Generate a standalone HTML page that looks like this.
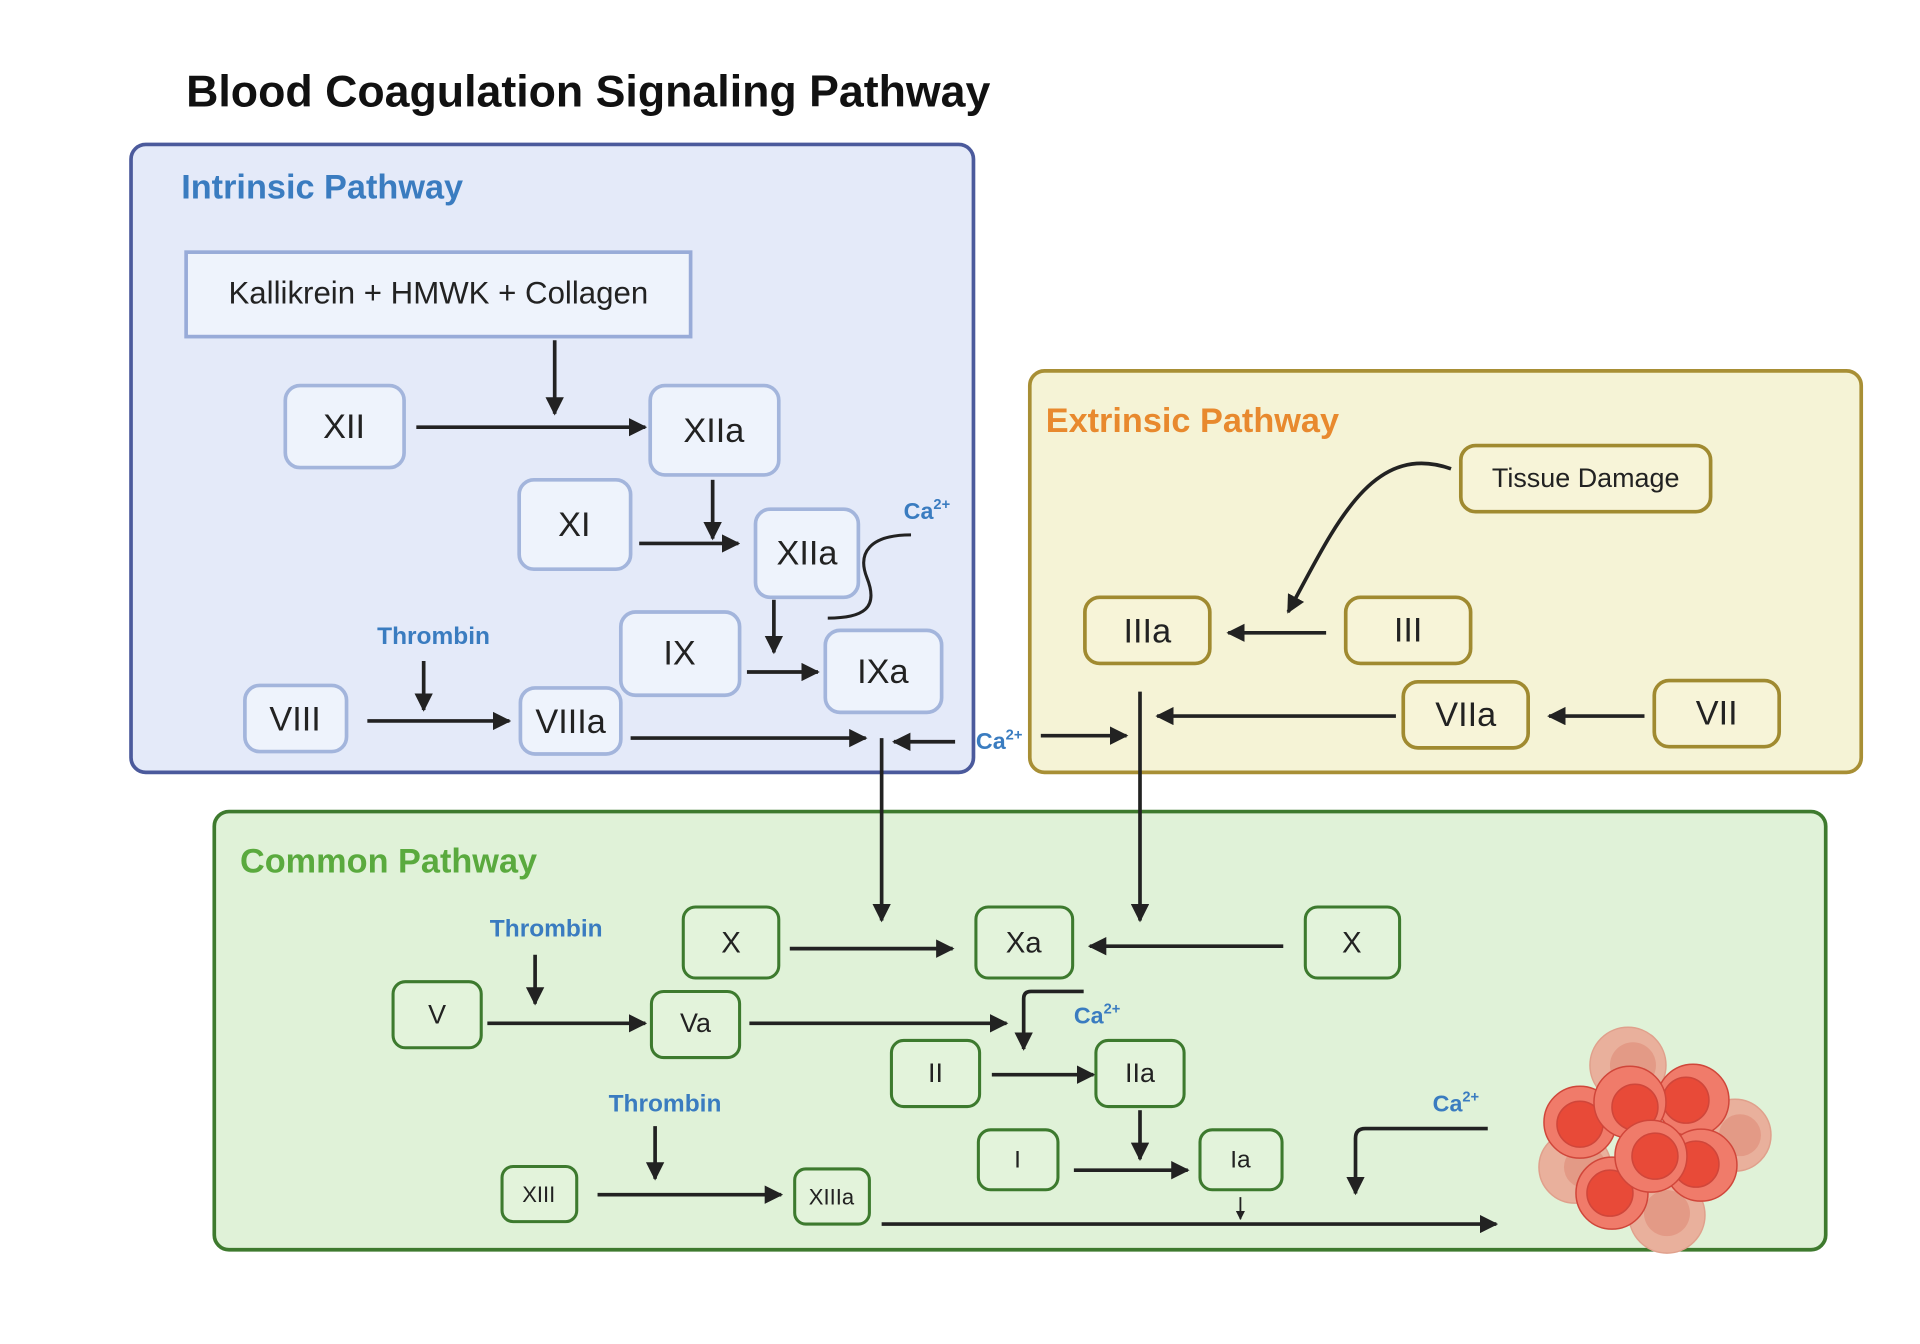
<!DOCTYPE html>
<html><head><meta charset="utf-8"><style>
html,body{margin:0;padding:0;background:#fff;width:1920px;height:1344px;overflow:hidden}
svg{display:block}
text{font-family:"Liberation Sans",sans-serif}
</style></head><body>
<svg width="1920" height="1344" viewBox="0 0 1568 1098" preserveAspectRatio="none" xmlns="http://www.w3.org/2000/svg">
<defs>
<marker id="a" viewBox="0 0 10 10" refX="9" refY="5" markerWidth="5" markerHeight="5" orient="auto" markerUnits="strokeWidth"><path d="M0,0 L10,5 L0,10 z" fill="#222"/></marker>
</defs>
<text x="152" y="87" font-size="36.5" font-weight="bold" fill="#111">Blood Coagulation Signaling Pathway</text>

<!-- Intrinsic -->
<rect x="107" y="118" width="688" height="513" rx="12" fill="#e4eaf9" stroke="#4b5a9c" stroke-width="3"/>
<text x="148" y="162" font-size="28" font-weight="bold" fill="#3a7cc0">Intrinsic Pathway</text>
<rect x="152" y="206" width="412" height="69" fill="#eef3fc" stroke="#98abd8" stroke-width="3"/>
<text x="358" y="248" font-size="25.5" text-anchor="middle" fill="#222">Kallikrein + HMWK + Collagen</text>
<g fill="#eef3fc" stroke="#a3b5dc" stroke-width="3">
<rect x="233" y="315" width="97" height="67" rx="12"/>
<rect x="531" y="315" width="105" height="73" rx="12"/>
<rect x="424" y="392" width="91" height="73" rx="12"/>
<rect x="617" y="416" width="84" height="72" rx="12"/>
<rect x="507" y="500" width="97" height="68" rx="12"/>
<rect x="674" y="515" width="95" height="67" rx="12"/>
<rect x="200" y="560" width="83" height="54" rx="12"/>
<rect x="425" y="562" width="82" height="54" rx="12"/>
</g>
<g font-size="28" text-anchor="middle" fill="#222">
<text x="281" y="358">XII</text><text x="583" y="361">XIIa</text><text x="469" y="438">XI</text>
<text x="659" y="461">XIIa</text><text x="555" y="543">IX</text><text x="721" y="558">IXa</text>
<text x="241" y="597">VIII</text><text x="466" y="599">VIIIa</text>
</g>
<g stroke="#222" stroke-width="3" fill="none" marker-end="url(#a)">
<path d="M453,278V338"/><path d="M340,349H527"/><path d="M582,392V440"/><path d="M522,444H603"/>
<path d="M632,490V533"/><path d="M610,549H668"/><path d="M300,589H416"/><path d="M346,540V580"/>
<path d="M515,603H707"/><path d="M780,606H730"/>
</g>
<path d="M744,437 C710,437 700,452 708,472 C718,497 705,505 676,505" stroke="#222" stroke-width="2.5" fill="none"/>
<g font-weight="bold" fill="#3a7cc0">
<text x="738" y="424" font-size="19">Ca<tspan font-size="12" dy="-8">2+</tspan></text>
<text x="797" y="612" font-size="19">Ca<tspan font-size="12" dy="-8">2+</tspan></text>
<text x="308" y="526" font-size="20">Thrombin</text>
</g>

<!-- Extrinsic -->
<rect x="841" y="303" width="679" height="328" rx="12" fill="#f5f3d6" stroke="#a88f35" stroke-width="3"/>
<text x="854" y="353" font-size="28" font-weight="bold" fill="#e8892e">Extrinsic Pathway</text>
<g fill="#f7f4d8" stroke="#a08a30" stroke-width="3">
<rect x="1193" y="364" width="204" height="54" rx="12"/>
<rect x="886" y="488" width="102" height="54" rx="12"/>
<rect x="1099" y="488" width="102" height="54" rx="12"/>
<rect x="1146" y="557" width="102" height="54" rx="12"/>
<rect x="1351" y="556" width="102" height="54" rx="12"/>
</g>
<g text-anchor="middle" fill="#222">
<text x="1295" y="398" font-size="22">Tissue Damage</text>
<text x="937" y="525" font-size="28">IIIa</text><text x="1150" y="524" font-size="28">III</text>
<text x="1197" y="593" font-size="28">VIIa</text><text x="1402" y="592" font-size="28">VII</text>
</g>
<g stroke="#222" stroke-width="3" fill="none" marker-end="url(#a)">
<path d="M1185,383 C1120,360 1090,430 1052,500"/>
<path d="M1083,517H1003"/><path d="M1343,585H1265"/><path d="M1140,585H945"/>
<path d="M850,601H920"/>
</g>

<!-- Common -->
<rect x="175" y="663" width="1316" height="358" rx="12" fill="#e0f2d8" stroke="#3e7a2e" stroke-width="3"/>
<text x="196" y="713" font-size="28" font-weight="bold" fill="#5aaa3e">Common Pathway</text>
<g stroke="#222" stroke-width="3" fill="none" marker-end="url(#a)">
<path d="M931,565V752"/><path d="M720,603V752"/>
</g>
<g fill="#e3f3db" stroke="#3d7a2e" stroke-width="2.5">
<rect x="558" y="741" width="78" height="58" rx="10"/>
<rect x="797" y="741" width="79" height="58" rx="10"/>
<rect x="1066" y="741" width="77" height="58" rx="10"/>
<rect x="321" y="802" width="72" height="54" rx="10"/>
<rect x="532" y="810" width="72" height="54" rx="10"/>
<rect x="728" y="850" width="72" height="54" rx="10"/>
<rect x="895" y="850" width="72" height="54" rx="10"/>
<rect x="799" y="923" width="65" height="49" rx="10"/>
<rect x="980" y="923" width="67" height="49" rx="10"/>
<rect x="410" y="953" width="61" height="45" rx="9"/>
<rect x="649" y="955" width="61" height="45" rx="9"/>
</g>
<g text-anchor="middle" fill="#222">
<text x="597" y="778" font-size="24">X</text><text x="836" y="778" font-size="24">Xa</text><text x="1104" y="778" font-size="24">X</text>
<text x="357" y="836" font-size="22">V</text><text x="568" y="843" font-size="22">Va</text>
<text x="764" y="884" font-size="22">II</text><text x="931" y="884" font-size="22">IIa</text>
<text x="831" y="954" font-size="20">I</text><text x="1013" y="954" font-size="20">Ia</text>
<text x="440" y="982" font-size="18">XIII</text><text x="679" y="984" font-size="18">XIIIa</text>
</g>
<g stroke="#222" stroke-width="3" fill="none" marker-end="url(#a)">
<path d="M645,775H778"/><path d="M1048,773H890"/><path d="M398,836H527"/><path d="M612,836H822"/>
<path d="M437,780V820"/><path d="M885,810H842Q836,810 836,816V857"/><path d="M810,878H893"/>
<path d="M931,907V947"/><path d="M877,956H970"/><path d="M535,920V963"/><path d="M488,976H638"/>
<path d="M720,1000H1222"/><path d="M1215,922H1115Q1107,922 1107,930V975"/>
</g>
<path d="M1013,978V996" stroke="#222" stroke-width="1.5" fill="none" marker-end="url(#a)"/>
<g font-weight="bold" fill="#3a7cc0">
<text x="400" y="765" font-size="20">Thrombin</text>
<text x="497" y="908" font-size="20">Thrombin</text>
<text x="877" y="836" font-size="19">Ca<tspan font-size="12" dy="-8">2+</tspan></text>
<text x="1170" y="908" font-size="19">Ca<tspan font-size="12" dy="-8">2+</tspan></text>
</g>

<!-- blood cells -->
<g transform="translate(4,-2) scale(0.8167)">
<g fill="#e9b09c" stroke="#e0a08c" stroke-width="1.5">
<circle cx="1623" cy="1068" r="38"/><circle cx="1730" cy="1138" r="36"/>
<circle cx="1570" cy="1170" r="36"/><circle cx="1662" cy="1218" r="38"/>
</g>
<g fill="#e39a86"><circle cx="1628" cy="1068" r="23"/><circle cx="1735" cy="1138" r="21"/><circle cx="1580" cy="1170" r="21"/><circle cx="1662" cy="1216" r="23"/></g>
<g stroke="#d0463a" stroke-width="1.5">
<circle cx="1575" cy="1125" r="36" fill="#f07b6a"/><circle cx="1575" cy="1127" r="23" fill="#e84a38"/>
<circle cx="1688" cy="1103" r="36" fill="#f07b6a"/><circle cx="1681" cy="1103" r="23" fill="#e84a38"/>
<circle cx="1625" cy="1105" r="36" fill="#f07b6a"/><circle cx="1630" cy="1110" r="23" fill="#e84a38"/>
<circle cx="1696" cy="1168" r="36" fill="#f07b6a"/><circle cx="1691" cy="1167" r="23" fill="#e84a38"/>
<circle cx="1607" cy="1196" r="36" fill="#f07b6a"/><circle cx="1605" cy="1196" r="23" fill="#e84a38"/>
<circle cx="1646" cy="1159" r="36" fill="#f07b6a"/><circle cx="1650" cy="1159" r="23" fill="#e84a38"/>
</g>
</g>
</svg>
</body></html>
